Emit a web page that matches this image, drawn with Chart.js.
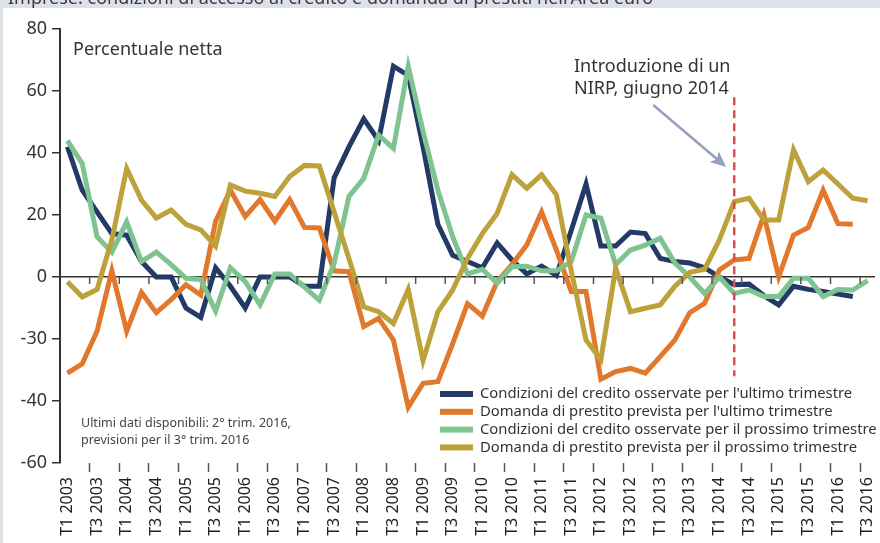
<!DOCTYPE html>
<html>
<head>
<meta charset="utf-8">
<script src="https://cdn.jsdelivr.net/npm/chart.js@4.4.1/dist/chart.umd.min.js"></script>
<style>
  html, body { margin: 0; padding: 0; background: #fff; }
  #wrap { position: relative; width: 880px; height: 543px; }
</style>
</head>
<body>
<div id="wrap"><canvas id="chart" width="880" height="543"></canvas></div>
<script>
// Quarters T1 2003 .. T3 2016
const years = [2003, 2004, 2005, 2006, 2007, 2008, 2009, 2010, 2011, 2012, 2013, 2014, 2015, 2016];
const quarterNames = ['T1', 'T2', 'T3', 'T4'];
const lastQuarter = 'T3 2016';

// Net percentages
const condUltimo = [42, 28, 21, 14, 13.5, 5, 0, 0, -10, -13, 3, -3, -10, 0, 0, 0, -3, -3, 32, 42,
  51, 44, 68, 65, 42, 17, 7, 5, 3, 11, 5.5, 1, 3.5, 0.5, 15, 30, 10, 10, 14.5, 14,
  6, 5, 4.5, 3, 0, -2.5, -2.3, -6, -9, -3, -4, -4.7, -5.5, -6.3, null];
const domandaUltimo = [-31, -28, -17.5, 2, -17.5, -5, -11.5, -7.3, -2.5, -5.8, 18, 28, 19.5, 25, 18, 25, 16, 15.8, 2, 1.7,
  -16, -13.3, -20.3, -42, -34.3, -33.8, -21.5, -8.6, -12.6, -1.5, 4, 10.3, 21, 8.7, -4.7, -4.7, -33, -30.5, -29.5, -31,
  -25.7, -20.3, -11.5, -8.5, 2.3, 5.5, 6, 20, 0, 13.5, 16, 28, 17.2, 17, null];
const condProssimo = [44, 36.6, 13, 8, 17.8, 5, 8, 4, -0.4, -0.8, -11, 3, -1.5, -9, 1, 1, -3.3, -7.5, 4.4, 26,
  31.8, 45.8, 41.5, 68, 47, 28, 13, 1, 2.5, -2, 3.3, 3.5, 2, 2, 5, 20, 19, 4, 8.7, 10.3,
  12.5, 4.5, 0, -5.3, 0, -5.3, -4.2, -6.3, -6.3, -0.4, -0.4, -6.3, -4, -4.2, -1.2];
const domandaProssimo = [-1.5, -6.4, -4, 12, 35, 24.8, 19, 21.6, 17, 15.2, 10, 29.7, 27.7, 27, 26, 32.4, 36, 35.8, 21, 6,
  -9.6, -11.2, -15, -4, -27, -11.2, -4.2, 6, 14, 20.5, 33, 28.6, 33, 26.5, 2, -20.3, -26.7, 2.8, -11.2, -10.1,
  -9, -3, 1.5, 2.5, 12, 24.3, 25.4, 18.4, 18.4, 41, 30.8, 34.5, 30, 25.4, 24.6];

const seriesNames = [
  "Condizioni del credito osservate per l'ultimo trimestre",
  "Domanda di prestito prevista per l'ultimo trimestre",
  "Condizioni del credito osservate per il prossimo trimestre",
  "Domanda di prestito prevista per il prossimo trimestre"
];
const seriesColors = ['#233a66', '#e2782c', '#7ec490', '#bda13a'];

const yTickValues = [-60, -40, -20, 0, 20, 40, 60, 80];
const yTickLabels = ['-60', '-40', '-30', '0', '20', '40', '60', '80'];

const nirpQuarter = 'T2 2014';
const titleText = "Imprese: condizioni di accesso al credito e domanda di prestiti nell'Area euro";
const unitText = 'Percentuale netta';
const nirpText = ['Introduzione di un', 'NIRP, giugno 2014'];
const noteText = ['Ultimi dati disponibili: 2\u00b0 trim. 2016,', 'previsioni per il 3\u00b0 trim. 2016'];

const FONT = '"Noto Sans", sans-serif';

const labels = [];
years.forEach(y => quarterNames.forEach(q => labels.push(q + ' ' + y)));
labels.length = labels.indexOf(lastQuarter) + 1;

// Grey title band behind the white panel
const backdrop = {
  id: 'backdrop',
  beforeDraw(chart) {
    const ctx = chart.ctx;
    ctx.save();
    ctx.fillStyle = '#dde1e8';
    ctx.fillRect(0, 0, chart.width, chart.height);
    ctx.fillStyle = '#3a3a3a';
    ctx.font = '18px ' + FONT;
    ctx.textBaseline = 'alphabetic';
    ctx.fillText(titleText, 8, 4);
    ctx.fillStyle = '#ffffff';
    ctx.fillRect(3, 8, chart.width - 3, chart.height - 8);
    ctx.restore();
  }
};

// Zero-line ticks, NIRP marker, texts and legend
const decorations = {
  id: 'decorations',
  afterDatasetsDraw(chart) {
    const ctx = chart.ctx;
    const xs = chart.scales.x;
    const ys = chart.scales.y;
    ctx.save();

    // small ticks hanging under the zero line
    const y0 = ys.getPixelForValue(0);
    ctx.strokeStyle = '#555';
    ctx.lineWidth = 1.5;
    for (let i = 2; i < labels.length; i += 2) {
      const x = (xs.getPixelForValue(i - 1) + xs.getPixelForValue(i)) / 2;
      ctx.beginPath();
      ctx.moveTo(x, y0);
      ctx.lineTo(x, y0 + 7);
      ctx.stroke();
    }

    // red dashed line for the NIRP
    const xn = xs.getPixelForValue(labels.indexOf(nirpQuarter));
    ctx.strokeStyle = '#e04b4b';
    ctx.lineWidth = 2.5;
    ctx.setLineDash([8, 5]);
    ctx.beginPath();
    ctx.moveTo(xn, ys.getPixelForValue(58));
    ctx.lineTo(xn, ys.getPixelForValue(-32));
    ctx.stroke();
    ctx.setLineDash([]);

    // arrow
    const ax1 = xn - 81, ay1 = ys.getPixelForValue(55.5);
    const ax2 = xn - 8, ay2 = ys.getPixelForValue(35.5);
    const ang = Math.atan2(ay2 - ay1, ax2 - ax1);
    ctx.strokeStyle = '#93a1bd';
    ctx.fillStyle = '#93a1bd';
    ctx.lineWidth = 2.5;
    ctx.beginPath();
    ctx.moveTo(ax1, ay1);
    ctx.lineTo(ax2 - 10 * Math.cos(ang), ay2 - 10 * Math.sin(ang));
    ctx.stroke();
    ctx.beginPath();
    ctx.moveTo(ax2, ay2);
    ctx.lineTo(ax2 - 16 * Math.cos(ang) + 7 * Math.sin(ang), ay2 - 16 * Math.sin(ang) - 7 * Math.cos(ang));
    ctx.lineTo(ax2 - 12 * Math.cos(ang), ay2 - 12 * Math.sin(ang));
    ctx.lineTo(ax2 - 16 * Math.cos(ang) - 7 * Math.sin(ang), ay2 - 16 * Math.sin(ang) + 7 * Math.cos(ang));
    ctx.closePath();
    ctx.fill();

    // texts
    ctx.fillStyle = '#333';
    ctx.textBaseline = 'middle';
    ctx.textAlign = 'left';
    ctx.font = '18px ' + FONT;
    ctx.fillText(unitText, 73, 50);
    ctx.fillText(nirpText[0], 574, 67);
    ctx.fillText(nirpText[1], 574, 89);
    ctx.fillStyle = '#444';
    ctx.font = '12.5px ' + FONT;
    ctx.fillText(noteText[0], 81, 423);
    ctx.fillText(noteText[1], 81, 440);

    // legend on a white box
    ctx.fillStyle = '#ffffff';
    ctx.fillRect(436, 384, 440, 72);
    ctx.font = '14.8px ' + FONT;
    chart.data.datasets.forEach((ds, k) => {
      const ly = 394 + k * 17.8;
      ctx.fillStyle = ds.borderColor;
      ctx.fillRect(440, ly - 3, 33, 6);
      ctx.fillStyle = '#333';
      ctx.fillText(ds.label, 480, ly);
    });
    ctx.restore();
  }
};

const seriesData = [condUltimo, domandaUltimo, condProssimo, domandaProssimo];

new Chart(document.getElementById('chart'), {
  type: 'line',
  data: {
    labels: labels,
    datasets: seriesData.map((d, k) => ({
      label: seriesNames[k],
      data: d,
      borderColor: seriesColors[k],
      backgroundColor: seriesColors[k],
      borderWidth: 5,
      borderJoinStyle: 'miter',
      pointRadius: 0,
      tension: 0,
      fill: false,
      spanGaps: false,
      order: 3 - k
    }))
  },
  options: {
    responsive: false,
    animation: false,
    layout: { padding: { top: 29, right: 5, left: 0, bottom: 0 } },
    plugins: {
      legend: { display: false },
      tooltip: { enabled: false }
    },
    scales: {
      x: {
        type: 'category',
        offset: true,
        border: { display: false },
        grid: {
          offset: true,
          drawOnChartArea: false,
          drawTicks: true,
          tickLength: 9,
          tickWidth: 1.5,
          tickColor: ctx => (ctx.index >= 2 && ctx.index < labels.length && ctx.index % 2 === 0) ? '#555' : 'rgba(0,0,0,0)'
        },
        ticks: {
          autoSkip: false,
          minRotation: 90,
          maxRotation: 90,
          padding: 5,
          color: '#222',
          font: { family: FONT, size: 16 },
          callback: (v, i) => (i % 2 === 0 ? labels[i] : '')
        },
        afterFit: scale => {
          scale.height = 80;
          scale.paddingLeft = 0;
          scale.paddingRight = 0;
        }
      },
      y: {
        min: -60,
        max: 80,
        border: { display: true, color: '#333', width: 2 },
        grid: {
          drawOnChartArea: true,
          drawTicks: true,
          tickLength: 8,
          tickColor: '#333',
          tickWidth: 1.5,
          lineWidth: 1.5,
          color: ctx => (ctx.tick && ctx.tick.value === 0 ? '#333' : 'rgba(0,0,0,0)')
        },
        afterBuildTicks: scale => { scale.ticks = yTickValues.map(v => ({ value: v })); },
        ticks: {
          padding: 5,
          color: '#333',
          font: { family: FONT, size: 18 },
          callback: v => yTickLabels[yTickValues.indexOf(v)]
        },
        afterFit: scale => { scale.width = 60; }
      }
    }
  },
  plugins: [backdrop, decorations]
});
</script>
</body>
</html>
